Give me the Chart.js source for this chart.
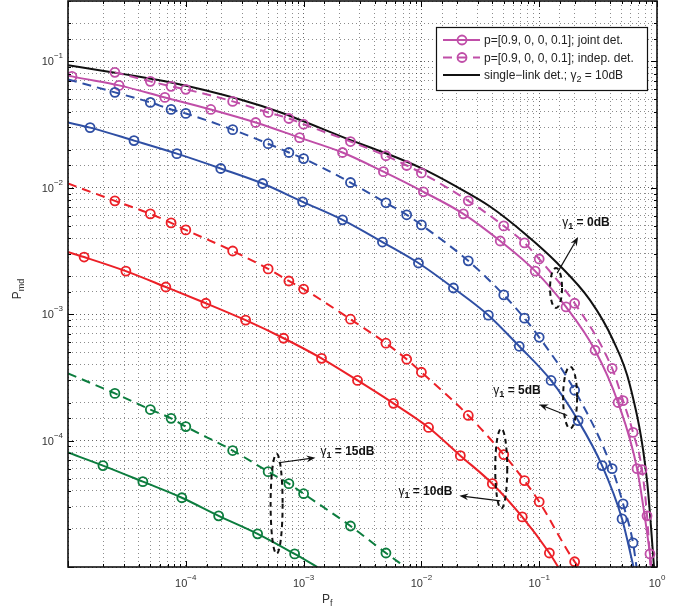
<!DOCTYPE html>
<html>
<head>
<meta charset="utf-8">
<script src="https://cdn.jsdelivr.net/npm/chart.js@4.4.0/dist/chart.umd.min.js"></script>
<style>
  html, body { margin: 0; padding: 0; background: #fff; }
</style>
</head>
<body>
<canvas id="c" width="695" height="613"></canvas>
<script>
// single-link detection, gamma2 = 10dB
const singlePf  = [1e-5, 7.5e-5, 2.9e-4, 6.4e-4, 2.5e-3, 4.8e-3, 9.8e-3, 0.0202, 0.0385, 0.076, 0.142, 0.27, 0.424, 0.59, 0.823, 0.944];
const singlePmd = [0.093, 0.068, 0.0499, 0.0394, 0.0238, 0.019, 0.0144, 0.0101, 0.00707, 0.00431, 0.00254, 0.00129, 6.22e-4, 2.73e-4, 4.82e-5, 1e-5];

// gamma1 = 0dB
const joint0Pf  = [1e-5, 1.08e-5, 2.71e-5, 6.64e-5, 1.63e-4, 3.92e-4, 9.25e-4, 2.14e-3, 4.76e-3, 0.0104, 0.0227, 0.0467, 0.0925, 0.169, 0.298, 0.467, 0.677, 0.872, 0.9];
const joint0Pmd = [0.0774, 0.076, 0.0645, 0.0518, 0.0416, 0.0328, 0.0249, 0.019, 0.0134, 0.00929, 0.00622, 0.00379, 0.00219, 0.00114, 5.18e-4, 2.0e-4, 6.0e-5, 1.27e-5, 1e-5];
const indep0Pf  = [2.5e-5, 5e-5, 7.5e-5, 1e-4, 2.5e-4, 5e-4, 7.5e-4, 1e-3, 2.5e-3, 5e-3, 7.5e-3, 0.01, 0.025, 0.05, 0.075, 0.1, 0.2, 0.416, 0.515, 0.626, 0.746, 0.823, 0.88];
const indep0Pmd = [0.0818, 0.0694, 0.0634, 0.06, 0.0482, 0.0394, 0.0353, 0.0318, 0.0232, 0.0179, 0.015, 0.0131, 0.00788, 0.00499, 0.00366, 0.00273, 0.00122, 3.73e-4, 2.07e-4, 1.16e-4, 5.89e-5, 2.54e-5, 1e-5];

// gamma1 = 5dB
const joint5Pf  = [1e-5, 1.54e-5, 3.63e-5, 8.39e-5, 1.98e-4, 4.49e-4, 9.81e-4, 2.14e-3, 4.67e-3, 9.44e-3, 0.0187, 0.037, 0.0677, 0.126, 0.214, 0.342, 0.505, 0.632];
const joint5Pmd = [0.0328, 0.0299, 0.0236, 0.0186, 0.0142, 0.0108, 0.00774, 0.00557, 0.00372, 0.00254, 0.00161, 9.82e-4, 5.57e-4, 2.99e-4, 1.44e-4, 6.34e-5, 2.4e-5, 1e-5];
const indep5Pf  = [1e-5, 2.5e-5, 5e-5, 7.5e-5, 1e-4, 2.5e-4, 5e-4, 7.5e-4, 1e-3, 2.5e-3, 5e-3, 7.5e-3, 0.01, 0.025, 0.05, 0.075, 0.1, 0.2, 0.416, 0.515, 0.626, 0.67];
const indep5Pmd = [0.072, 0.0568, 0.0473, 0.0416, 0.0387, 0.0288, 0.0223, 0.019, 0.017, 0.011, 0.0076, 0.00611, 0.00508, 0.00264, 0.00142, 9.29e-4, 6.56e-4, 2.5e-4, 6.0e-5, 3.16e-5, 1.55e-5, 1e-5];

// gamma1 = 10dB
const joint10Pf  = [1e-5, 1.37e-5, 3.1e-5, 6.77e-5, 1.48e-4, 3.22e-4, 6.77e-4, 1.42e-3, 2.87e-3, 5.79e-3, 0.0115, 0.0214, 0.04, 0.0718, 0.122, 0.145];
const joint10Pmd = [0.0031, 0.00283, 0.00219, 0.00164, 0.00122, 8.96e-4, 6.45e-4, 4.47e-4, 2.99e-4, 1.97e-4, 1.27e-4, 7.6e-5, 4.56e-5, 2.49e-5, 1.29e-5, 1e-5];
const indep10Pf  = [1e-5, 2.5e-5, 5e-5, 7.5e-5, 1e-4, 2.5e-4, 5e-4, 7.5e-4, 1e-3, 2.5e-3, 5e-3, 7.5e-3, 0.01, 0.025, 0.05, 0.075, 0.1, 0.2, 0.218];
const indep10Pmd = [0.0108, 0.00788, 0.00622, 0.00527, 0.00464, 0.00316, 0.00228, 0.00183, 0.00158, 9.12e-4, 5.89e-4, 4.4e-4, 3.47e-4, 1.58e-4, 7.75e-5, 4.82e-5, 3.28e-5, 1.1e-5, 1e-5];

// gamma1 = 15dB
const joint15Pf  = [1e-5, 1.98e-5, 4.32e-5, 9.25e-5, 1.9e-4, 4.07e-4, 8.39e-4, 1.31e-3];
const joint15Pmd = [8.04e-5, 6.34e-5, 4.73e-5, 3.53e-5, 2.54e-5, 1.83e-5, 1.27e-5, 1e-5];
const indep15Pf  = [1e-5, 2.5e-5, 5e-5, 7.5e-5, 1e-4, 2.5e-4, 5e-4, 7.5e-4, 1e-3, 2.5e-3, 5e-3, 7.3e-3];
const indep15Pmd = [3.4e-4, 2.36e-4, 1.76e-4, 1.5e-4, 1.29e-4, 8.34e-5, 5.68e-5, 4.56e-5, 3.8e-5, 2.11e-5, 1.29e-5, 1e-5];

const xExps = [-4, -3, -2, -1, 0];
const yExps = [-4, -3, -2, -1];

const MAGENTA = '#c04ea8';
const BLUE = '#2f4fa4';
const RED = '#ec2027';
const GREEN = '#0c7d3e';
const FONT = '"Liberation Sans", Arial, Helvetica, sans-serif';

// annotation callouts (data coords)
const callouts = [
  { text: ' = 0dB',  at: [0.157, 0.00499],  ell: [0.139, 0.00161, 6, 20],  arrow: [[0.142, 0.00211], [0.214, 0.00408]] },
  { text: ' = 5dB',  at: [0.0408, 2.32e-4], ell: [0.183, 2.19e-4, 7, 31],  arrow: [[0.173, 1.58e-4], [0.1, 1.93e-4]] },
  { text: ' = 10dB', at: [6.38e-3, 3.73e-5], ell: [0.0476, 6.0e-5, 6, 40], arrow: [[0.0467, 3.34e-5], [0.021, 3.66e-5]] },
  { text: ' = 15dB', at: [1.39e-3, 7.75e-5], ell: [5.9e-4, 3.16e-5, 6, 50], arrow: [[6.14e-4, 6.68e-5], [1.26e-3, 7.33e-5]] },
];

function curve(pf, pmd, color, dashed, markers) {
  return {
    data: pf.map((v, i) => ({ x: v, y: pmd[i] })),
    borderColor: color,
    borderWidth: 2,
    borderDash: dashed ? [9, 6] : [],
    cubicInterpolationMode: 'monotone',
    pointRadius: (c) => (markers && c.raw && c.raw.x > 1e-5 && c.raw.y > 1e-5 ? 4.5 : 0),
    pointBorderColor: color,
    pointBackgroundColor: 'rgba(0,0,0,0)',
    pointBorderWidth: 1.8,
    pointHoverRadius: 0,
    fill: false,
  };
}

const isMajor = (v) => Math.abs(Math.log10(v) - Math.round(Math.log10(v))) < 1e-6;

function runs(ctx, x, y, parts, align) {
  let w = 0;
  parts.forEach((p) => { ctx.font = p[1]; w += ctx.measureText(p[0]).width; });
  let cx = align === 'right' ? x - w : align === 'center' ? x - w / 2 : x;
  parts.forEach((p) => {
    ctx.font = p[1];
    ctx.fillText(p[0], cx, y + (p[2] || 0));
    cx += ctx.measureText(p[0]).width;
  });
}

function arrow(ctx, x1, y1, x2, y2) {
  const ang = Math.atan2(y2 - y1, x2 - x1);
  const L = 9, W = 3.5;
  ctx.beginPath();
  ctx.moveTo(x1, y1);
  ctx.lineTo(x2 - Math.cos(ang) * 5, y2 - Math.sin(ang) * 5);
  ctx.stroke();
  ctx.beginPath();
  ctx.moveTo(x2, y2);
  ctx.lineTo(x2 - L * Math.cos(ang) + W * Math.sin(ang), y2 - L * Math.sin(ang) - W * Math.cos(ang));
  ctx.lineTo(x2 - 6 * Math.cos(ang), y2 - 6 * Math.sin(ang));
  ctx.lineTo(x2 - L * Math.cos(ang) - W * Math.sin(ang), y2 - L * Math.sin(ang) + W * Math.cos(ang));
  ctx.closePath();
  ctx.fill();
}

const frame = {
  id: 'frame',
  afterDraw(chart) {
    const { ctx, chartArea: a, scales: { x, y } } = chart;
    ctx.save();

    // inward tick marks on all four sides
    ctx.strokeStyle = '#000';
    ctx.lineWidth = 1;
    ctx.beginPath();
    x.ticks.forEach((t) => {
      const p = Math.round(x.getPixelForValue(t.value)) + 0.5;
      const len = isMajor(t.value) ? 6 : 3;
      ctx.moveTo(p, a.bottom); ctx.lineTo(p, a.bottom - len);
      ctx.moveTo(p, a.top); ctx.lineTo(p, a.top + len);
    });
    y.ticks.forEach((t) => {
      const p = Math.round(y.getPixelForValue(t.value)) + 0.5;
      const len = isMajor(t.value) ? 6 : 3;
      ctx.moveTo(a.left, p); ctx.lineTo(a.left + len, p);
      ctx.moveTo(a.right, p); ctx.lineTo(a.right - len, p);
    });
    ctx.stroke();

    // axes box
    ctx.lineWidth = 1.6;
    ctx.strokeStyle = '#111';
    ctx.strokeRect(a.left, a.top, a.right - a.left, a.bottom - a.top);

    // tick labels
    ctx.fillStyle = '#333';
    ctx.textAlign = 'left';
    ctx.textBaseline = 'alphabetic';
    xExps.forEach((k) => {
      const p = x.getPixelForValue(Math.pow(10, k));
      runs(ctx, p, a.bottom + 20, [['10', '11px ' + FONT], [k < 0 ? '\u2212' + (-k) : String(k), '8px ' + FONT, -7]], 'center');
    });
    yExps.forEach((k) => {
      const p = y.getPixelForValue(Math.pow(10, k));
      runs(ctx, a.left - 5, p + 4, [['10', '11px ' + FONT], ['\u2212' + (-k), '8px ' + FONT, -7]], 'right');
    });

    // axis titles
    runs(ctx, 322, a.bottom + 36, [['P', '12px ' + FONT], ['f', '9px ' + FONT, 3]], 'left');
    ctx.save();
    ctx.translate(21, 289);
    ctx.rotate(-Math.PI / 2);
    runs(ctx, 0, 0, [['P', '12px ' + FONT], ['md', '9px ' + FONT, 3]], 'center');
    ctx.restore();

    // callouts
    ctx.fillStyle = '#111';
    ctx.strokeStyle = '#111';
    callouts.forEach((c) => {
      const ex = x.getPixelForValue(c.ell[0]);
      const ey = y.getPixelForValue(c.ell[1]);
      ctx.setLineDash([5, 4]);
      ctx.lineWidth = 2;
      ctx.beginPath();
      ctx.ellipse(ex, ey, c.ell[2], c.ell[3], 0, 0, Math.PI * 2);
      ctx.stroke();
      ctx.setLineDash([]);
      ctx.lineWidth = 1.2;
      arrow(ctx,
        x.getPixelForValue(c.arrow[0][0]), y.getPixelForValue(c.arrow[0][1]),
        x.getPixelForValue(c.arrow[1][0]), y.getPixelForValue(c.arrow[1][1]));
      runs(ctx, x.getPixelForValue(c.at[0]), y.getPixelForValue(c.at[1]), [
        ['\u03b3', '12px ' + FONT],
        ['1', 'bold 9px ' + FONT, 3],
        [c.text, 'bold 12px ' + FONT],
      ], 'left');
    });

    // legend
    const lx = a.right - 221, ly = a.top + 26, lw = 211, lh = 63;
    ctx.fillStyle = '#fff';
    ctx.fillRect(lx, ly, lw, lh);
    ctx.lineWidth = 1.2;
    ctx.strokeStyle = '#111';
    ctx.strokeRect(lx + 0.5, ly + 0.5, lw, lh);
    const rows = [
      { color: MAGENTA, dash: [], marker: true, parts: [['p=[0.9, 0, 0, 0.1]; joint det.', '12px ' + FONT]] },
      { color: MAGENTA, dash: [9, 6], marker: true, parts: [['p=[0.9, 0, 0, 0.1]; indep. det.', '12px ' + FONT]] },
      { color: '#111', dash: [], marker: false, parts: [['single\u2212link det.; \u03b3', '12px ' + FONT], ['2', '9px ' + FONT, 3], [' = 10dB', '12px ' + FONT]] },
    ];
    rows.forEach((r, i) => {
      const yy = ly + 13 + i * 17.5;
      ctx.strokeStyle = r.color;
      ctx.lineWidth = 2;
      ctx.setLineDash(r.dash);
      ctx.beginPath();
      ctx.moveTo(lx + 7, yy); ctx.lineTo(lx + 44, yy);
      ctx.stroke();
      ctx.setLineDash([]);
      if (r.marker) {
        ctx.lineWidth = 1.8;
        ctx.beginPath();
        ctx.arc(lx + 26, yy, 4.5, 0, Math.PI * 2);
        ctx.stroke();
      }
      ctx.fillStyle = '#222';
      runs(ctx, lx + 48, yy + 4, r.parts, 'left');
    });
    ctx.restore();
  },
};

const gridColor = (c) => (c.tick && isMajor(c.tick.value) ? 'rgba(0,0,0,0.6)' : 'rgba(0,0,0,0.45)');

function logAxis(min, max) {
  return {
    type: 'logarithmic',
    min, max,
    ticks: { display: false, autoSkip: false },
    grid: { drawTicks: false, color: gridColor, lineWidth: 1 },
    border: { display: false, dash: [1, 3] },
  };
}

new Chart(document.getElementById('c'), {
  type: 'line',
  data: {
    datasets: [
      curve(indep15Pf, indep15Pmd, GREEN, true, true),
      curve(joint15Pf, joint15Pmd, GREEN, false, true),
      curve(indep10Pf, indep10Pmd, RED, true, true),
      curve(joint10Pf, joint10Pmd, RED, false, true),
      curve(indep5Pf, indep5Pmd, BLUE, true, true),
      curve(joint5Pf, joint5Pmd, BLUE, false, true),
      curve(indep0Pf, indep0Pmd, MAGENTA, true, true),
      curve(joint0Pf, joint0Pmd, MAGENTA, false, true),
      curve(singlePf, singlePmd, '#111', false, false),
    ],
  },
  options: {
    responsive: false,
    animation: false,
    events: [],
    layout: { autoPadding: false, padding: { left: 68, top: 1, right: 38, bottom: 46 } },
    plugins: { legend: { display: false }, tooltip: { enabled: false } },
    scales: {
      x: logAxis(1e-5, 1),
      y: logAxis(1e-5, 0.3),
    },
  },
  plugins: [frame],
});
</script>
</body>
</html>
